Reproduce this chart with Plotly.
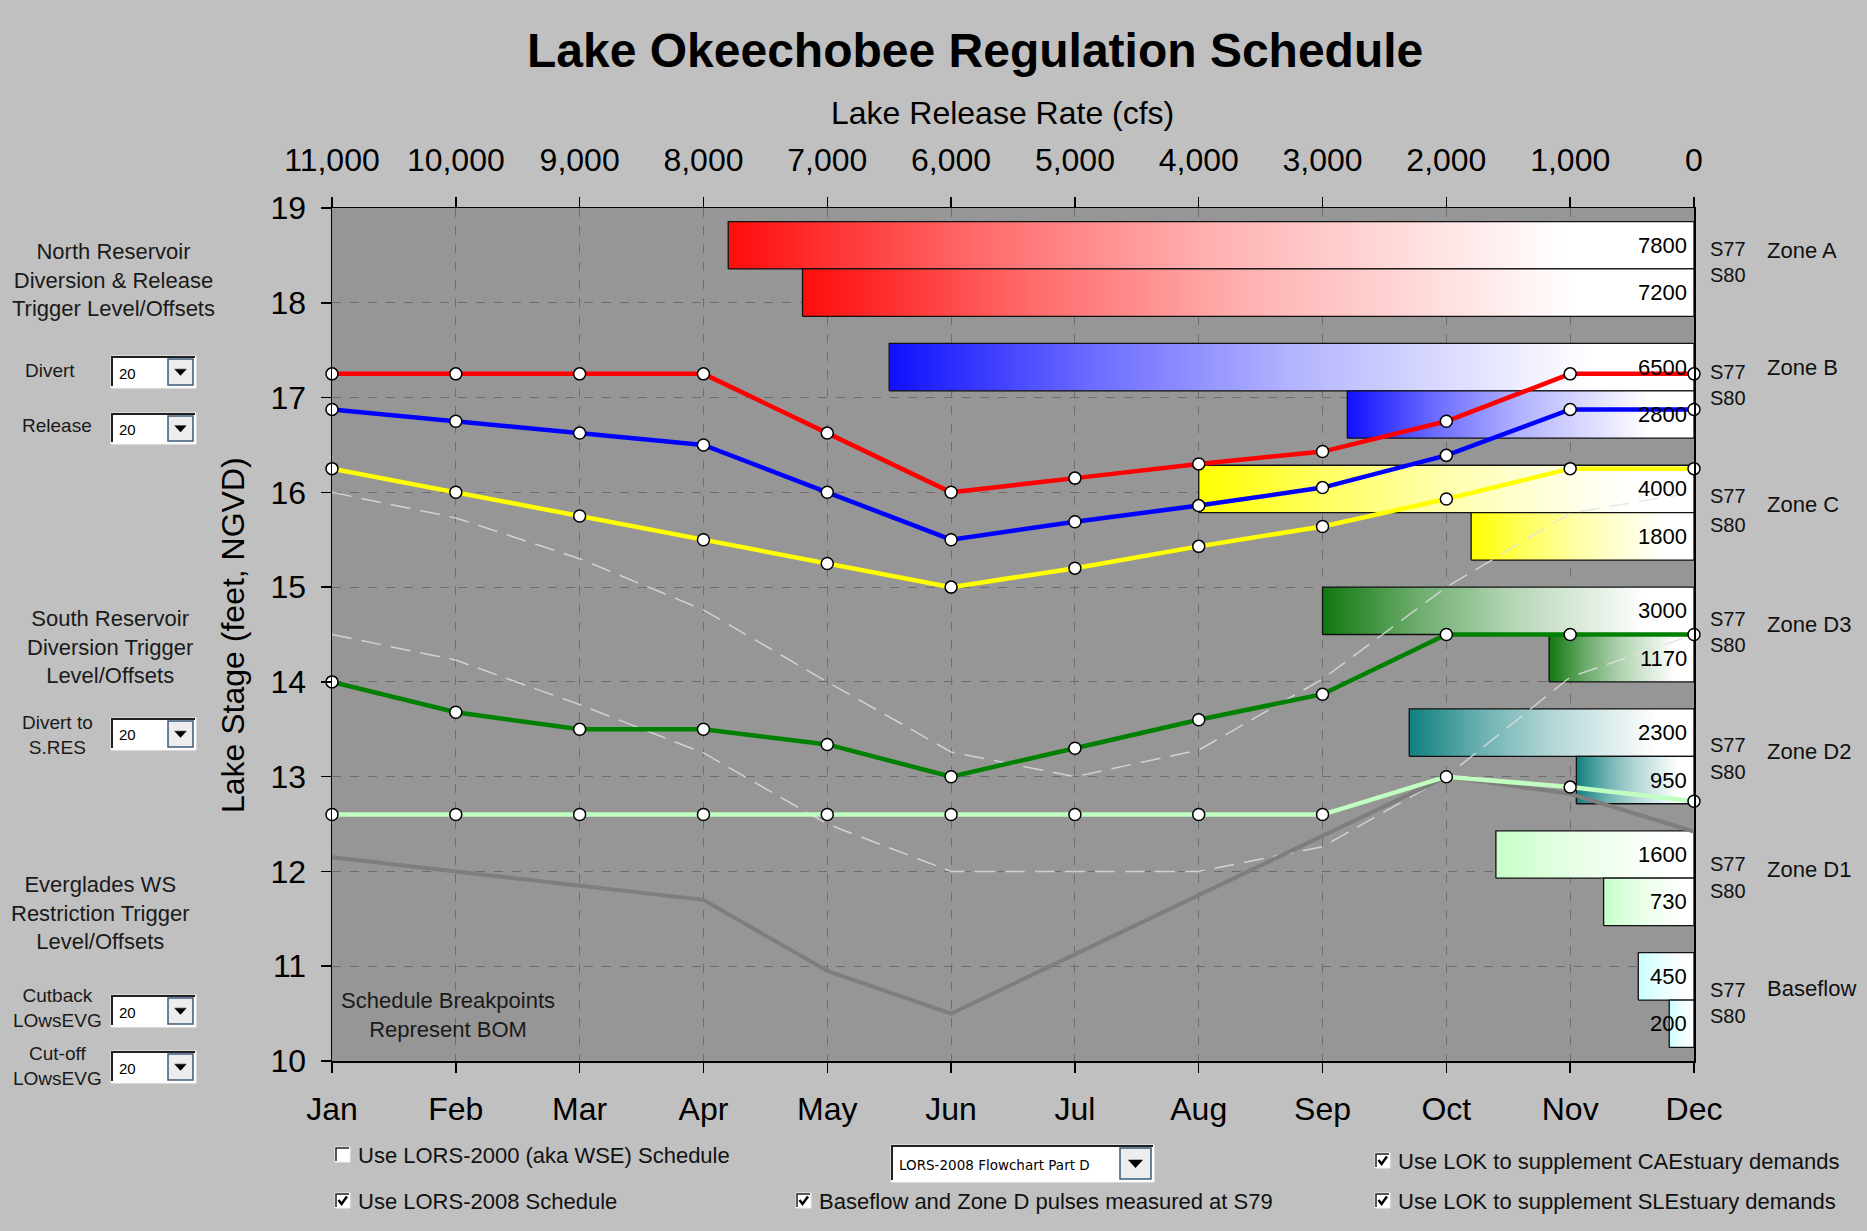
import plotly.graph_objects as go

# ---------------- data ----------------
months = ["Jan", "Feb", "Mar", "Apr", "May", "Jun", "Jul", "Aug", "Sep", "Oct", "Nov", "Dec"]
month_pos = list(range(12))

red_line = [17.25, 17.25, 17.25, 17.25, 16.625, 16.0, 16.15, 16.3, 16.43, 16.75, 17.25, 17.25]
blue_line = [16.875, 16.75, 16.625, 16.5, 16.0, 15.5, 15.69, 15.86, 16.05, 16.39, 16.875, 16.875]
yellow_line = [16.25, 16.0, 15.75, 15.5, 15.25, 15.0, 15.2, 15.43, 15.64, 15.93, 16.25, 16.25]
green_line = [14.0, 13.68, 13.5, 13.5, 13.34, 13.0, 13.3, 13.6, 13.87, 14.5, 14.5, 14.5]
lightgreen_line = [12.6, 12.6, 12.6, 12.6, 12.6, 12.6, 12.6, 12.6, 12.6, 13.0, 12.89, 12.74]
gray_line = [12.15, 12.0, 11.85, 11.7, 10.95, 10.5, 11.125, 11.75, 12.375, 13.0, 12.82, 12.42]
dash_upper = [16.0, 15.73, 15.3, 14.76, 14.0, 13.26, 13.0, 13.28, 14.03, 15.0, 15.78, 16.0]
dash_lower = [14.5, 14.23, 13.76, 13.25, 12.5, 12.0, 12.0, 12.0, 12.26, 13.0, 14.05, 14.5]

zones = ["Zone A", "Zone B", "Zone C", "Zone D3", "Zone D2", "Zone D1", "Baseflow"]
s77_rates = [7800, 6500, 4000, 3000, 2300, 1600, 450]
s80_rates = [7200, 2800, 1800, 1170, 950, 730, 200]
zone_colors = [(255, 12, 12), (16, 16, 255), (255, 255, 0), (16, 120, 16), (16, 128, 128),
               (198, 255, 198), (198, 255, 255)]

release_ticks = list(range(11000, -1, -1000))
release_labels = [f"{v:,}" for v in release_ticks]
stage_ticks = list(range(10, 20))

# ---------------- layout geometry / styling ----------------
W, H = 1867, 1231
L, R, T, B = 332, 1694, 208, 1061
FONT = "Liberation Sans, Arial, sans-serif"
Y_MIN, Y_MAX = 10, 19
BAND = (Y_MAX - Y_MIN) / len(zones)
BAR_H = 0.5
# label offsets (ft) relative to each zone centre: zone name, S77, S80
ZONE_DY = [0.19, 0.245, 0.09, 0.11, 0.05, 0.09, 0.12]
S77_DY = [0.21, 0.195, 0.18, 0.16, 0.12, 0.145, 0.11]
S80_DY = [-0.06, -0.08, -0.13, -0.11, -0.16, -0.13, -0.165]
# gradient: (position from right end, share of zone colour)
GRAD = [(0.0, 0.0), (0.13, 0.0), (0.5, 0.32), (0.75, 0.62), (1.0, 1.0)]


def pxx(px):
    return (px - L) / (R - L)


def pxy(py):
    return (B - py) / (B - T)


def mix(rgb, k):
    r, g, b = (int(round(255 + (c - 255) * k)) for c in rgb)
    return f"rgb({r},{g},{b})"


fig = go.Figure()

# ---------------- zone bars (gradient filled) on the release-rate axis ----------------
annotations = []
for i, z in enumerate(zones):
    c = Y_MAX - (i + 0.5) * BAND
    cs = [[p, mix(zone_colors[i], k)] for p, k in GRAD]
    for rate, lo, hi in ((s77_rates[i], c, c + BAR_H), (s80_rates[i], c - BAR_H, c)):
        fig.add_trace(go.Scatter(
            x=[rate, 0, 0, rate, rate], y=[lo, lo, hi, hi, lo],
            xaxis="x", yaxis="y", mode="lines", fill="toself",
            fillgradient=dict(type="horizontal", start=0, stop=rate, colorscale=cs),
            line=dict(color="#111111", width=1.3),
            hoverinfo="skip", showlegend=False))
        annotations.append(dict(xref="x", yref="y", x=0, y=(lo + hi) / 2, text=str(rate),
                                xanchor="right", yanchor="middle", xshift=-5, showarrow=False,
                                font=dict(family=FONT, size=22, color="#000000")))
    annotations.append(dict(xref="paper", yref="y", x=pxx(1708), y=c + S77_DY[i], text="S77",
                            xanchor="left", yanchor="middle", showarrow=False,
                            font=dict(family=FONT, size=20, color="#111111")))
    annotations.append(dict(xref="paper", yref="y", x=pxx(1708), y=c + S80_DY[i], text="S80",
                            xanchor="left", yanchor="middle", showarrow=False,
                            font=dict(family=FONT, size=20, color="#111111")))
    annotations.append(dict(xref="paper", yref="y", x=pxx(1765), y=c + ZONE_DY[i], text=z,
                            xanchor="left", yanchor="middle", showarrow=False,
                            font=dict(family=FONT, size=22, color="#111111")))

# ---------------- lines on the month axis (overlay, drawn above the bars) ----------------
for series in (dash_upper, dash_lower):
    fig.add_trace(go.Scatter(x=month_pos, y=series, mode="lines", xaxis="x2", yaxis="y",
                             line=dict(color="rgba(225,225,225,0.8)", width=1.5, dash="20px,10px"),
                             hoverinfo="skip", showlegend=False, cliponaxis=False))

fig.add_trace(go.Scatter(x=month_pos, y=gray_line, mode="lines", xaxis="x2", yaxis="y",
                         line=dict(color="#7E7E7E", width=4), hoverinfo="skip",
                         showlegend=False, cliponaxis=False))

marker = dict(symbol="circle", size=12, color="#FFFFFF", line=dict(color="#000000", width=1.5))
for series, col in ((lightgreen_line, "#C0FFC0"), (green_line, "#008000"),
                    (yellow_line, "#FFFF00"), (blue_line, "#0000FF"), (red_line, "#FF0000")):
    fig.add_trace(go.Scatter(x=month_pos, y=series, mode="lines+markers", xaxis="x2", yaxis="y",
                             line=dict(color=col, width=4.5), marker=marker,
                             hoverinfo="skip", showlegend=False, cliponaxis=False))

# ---------------- titles ----------------
annotations += [
    dict(xref="paper", yref="paper", x=pxx(975), y=pxy(50), text="<b>Lake Okeechobee Regulation Schedule</b>",
         showarrow=False, xanchor="center", yanchor="middle", font=dict(family=FONT, size=48, color="#000000")),
    dict(xref="paper", yref="paper", x=pxx(1002), y=pxy(113), text="Lake Release Rate (cfs)",
         showarrow=False, xanchor="center", yanchor="middle", font=dict(family=FONT, size=32, color="#000000")),
    dict(xref="paper", yref="paper", x=pxx(233), y=pxy(635), text="Lake Stage (feet, NGVD)", textangle=-90,
         showarrow=False, xanchor="center", yanchor="middle", font=dict(family=FONT, size=32, color="#000000")),
    dict(xref="paper", yref="paper", x=pxx(448), y=pxy(1015), text="Schedule Breakpoints<br>Represent BOM",
         showarrow=False, xanchor="center", yanchor="middle", align="center",
         font=dict(family=FONT, size=22, color="#1a1a1a")),
]

# ---------------- left panel ----------------
headings = [
    ("North Reservoir<br>Diversion & Release<br>Trigger Level/Offsets", 113, 280),
    ("South Reservoir<br>Diversion Trigger<br>Level/Offsets", 110, 647),
    ("Everglades WS<br>Restriction Trigger<br>Level/Offsets", 101, 913),
]
for txt, cx, cy in headings:
    annotations.append(dict(xref="paper", yref="paper", x=pxx(cx), y=pxy(cy), text=txt, showarrow=False,
                            xanchor="center", yanchor="middle", align="center",
                            font=dict(family=FONT, size=22, color="#1a1a1a")))

controls = [
    ("Divert", 50, 370, 356, 388),
    ("Release", 57, 426, 413, 444),
    ("Divert to<br>S.RES", 57, 735, 718, 750),
    ("Cutback<br>LOwsEVG", 57, 1008, 995, 1027),
    ("Cut-off<br>LOwsEVG", 57, 1066, 1051, 1083),
]
shapes = []


def dropdown(x0, y0, x1, y1, text, tsize, tfamily, bw):
    shapes.append(dict(type="rect", xref="paper", yref="paper", x0=pxx(x0), x1=pxx(x1), y0=pxy(y1), y1=pxy(y0),
                       fillcolor="#FFFFFF", line=dict(color="#F4F4F4", width=1), layer="above"))
    shapes.append(dict(type="path", xref="paper", yref="paper",
                       path=f"M{pxx(x0+1)},{pxy(y1-2)} L{pxx(x0+1)},{pxy(y0+1)} L{pxx(x1-1)},{pxy(y0+1)}",
                       line=dict(color="#202020", width=2), layer="above"))
    bx0, bx1 = x1 - bw - 2, x1 - 3
    shapes.append(dict(type="rect", xref="paper", yref="paper", x0=pxx(bx0), x1=pxx(bx1),
                       y0=pxy(y1 - 3), y1=pxy(y0 + 3), fillcolor="#EDEDED",
                       line=dict(color="#3D5A7A", width=1.5), layer="above"))
    cx, cy = (bx0 + bx1) / 2, (y0 + y1) / 2
    s = bw * 0.22
    shapes.append(dict(type="path", xref="paper", yref="paper",
                       path=f"M{pxx(cx - s)},{pxy(cy - s * 0.5)} L{pxx(cx + s)},{pxy(cy - s * 0.5)} L{pxx(cx)},{pxy(cy + s * 0.6)} Z",
                       fillcolor="#000000", line=dict(color="#000000", width=0.5), layer="above"))
    annotations.append(dict(xref="paper", yref="paper", x=pxx(x0 + 6), y=pxy(cy + 1), text=text, showarrow=False,
                            xanchor="left", yanchor="middle", font=dict(family=tfamily, size=tsize, color="#000000")))


for txt, cx, cy, y0, y1 in controls:
    annotations.append(dict(xref="paper", yref="paper", x=pxx(cx), y=pxy(cy), text=txt, showarrow=False,
                            xanchor="center", yanchor="middle", align="center",
                            font=dict(family=FONT, size=19, color="#1a1a1a")))
    dropdown(111, y0, 196, y1, "20", 15, FONT, 26)

dropdown(891, 1145, 1154, 1182, "LORS-2008 Flowchart Part D", 13.5, "DejaVu Sans", 32)

# ---------------- checkboxes ----------------
checks = [
    (335, 1155, "Use LORS-2000 (aka WSE) Schedule", False),
    (335, 1201, "Use LORS-2008 Schedule", True),
    (796, 1201, "Baseflow and Zone D pulses measured at S79", True),
    (1375, 1161, "Use LOK to supplement CAEstuary demands", True),
    (1375, 1201, "Use LOK to supplement SLEstuary demands", True),
]
for x0, cy, txt, on in checks:
    y0 = cy - 8
    shapes.append(dict(type="rect", xref="paper", yref="paper", x0=pxx(x0), x1=pxx(x0 + 15),
                       y0=pxy(y0 + 15), y1=pxy(y0), fillcolor="#FFFFFF",
                       line=dict(color="#F0F0F0", width=1), layer="above"))
    shapes.append(dict(type="path", xref="paper", yref="paper",
                       path=f"M{pxx(x0+1)},{pxy(y0+14)} L{pxx(x0+1)},{pxy(y0+1)} L{pxx(x0+14)},{pxy(y0+1)}",
                       line=dict(color="#222222", width=1.5), layer="above"))
    if on:
        shapes.append(dict(type="path", xref="paper", yref="paper",
                           path=f"M{pxx(x0+3.5)},{pxy(y0+7)} L{pxx(x0+6.5)},{pxy(y0+11)} L{pxx(x0+12)},{pxy(y0+3.5)}",
                           line=dict(color="#000000", width=2.5), layer="above"))
    annotations.append(dict(xref="paper", yref="paper", x=pxx(x0 + 21), y=pxy(cy), text=txt, showarrow=False,
                            xanchor="left", yanchor="middle", font=dict(family=FONT, size=22, color="#111111")))

# ---------------- axes ----------------
tickfont = dict(family=FONT, size=32, color="#000000")
fig.update_layout(
    width=W, height=H,
    margin=dict(l=L, r=W - R, t=T, b=H - B, pad=0),
    paper_bgcolor="#C0C0C0", plot_bgcolor="#969696",
    showlegend=False,
    xaxis=dict(range=[11000, 0], side="top", anchor="y", tickvals=release_ticks,
               ticktext=release_labels, ticks="outside", ticklen=10, tickcolor="#000000", tickwidth=1.5,
               showline=True, linecolor="#000000", linewidth=1.5, showgrid=True, gridcolor="#6E6E6E",
               griddash="dash", gridwidth=1, zeroline=False,
               tickfont=tickfont, ticklabelstandoff=13, fixedrange=True),
    xaxis2=dict(range=[0, 11], overlaying="x", side="bottom", anchor="y", tickvals=month_pos, ticktext=months,
                ticks="outside", ticklen=10, tickcolor="#000000", tickwidth=1.5, showline=True,
                linecolor="#000000", linewidth=1.5, showgrid=False, zeroline=False,
                tickfont=tickfont, ticklabelstandoff=9, fixedrange=True),
    yaxis=dict(range=[Y_MIN, Y_MAX], tickvals=stage_ticks, ticks="outside", ticklen=10, tickcolor="#000000",
               tickwidth=1.5, showline=True, mirror=True, linecolor="#000000", linewidth=1.5,
               showgrid=True, gridcolor="#6E6E6E", griddash="dash", gridwidth=1, zeroline=False,
               tickfont=tickfont, ticklabelstandoff=8, fixedrange=True),
    annotations=annotations,
    shapes=shapes,
)

fig.write_html("out.html", include_plotlyjs=True, full_html=True,
               config={"displayModeBar": False, "staticPlot": True},
               post_script="document.body.style.margin='0';document.body.style.overflow='hidden';")
